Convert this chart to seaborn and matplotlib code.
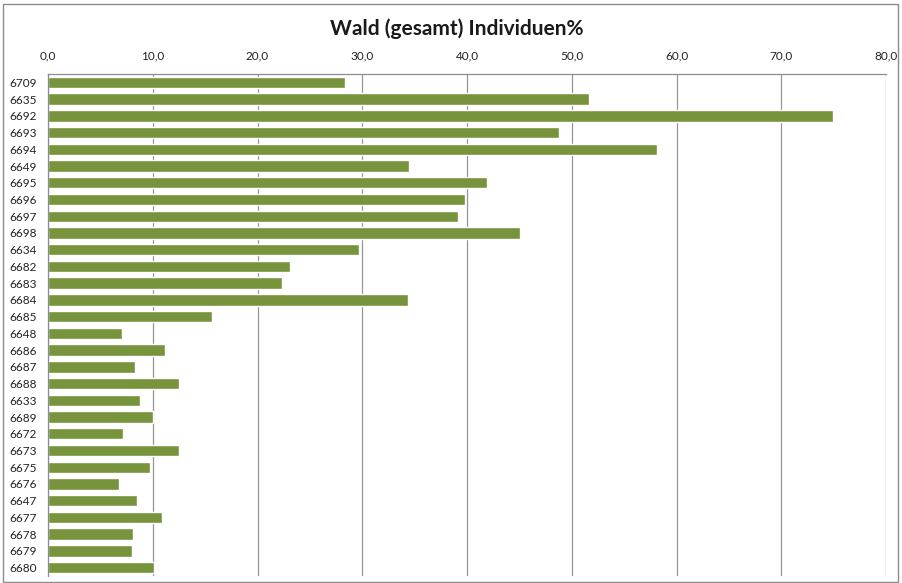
import matplotlib
matplotlib.use("Agg")
import matplotlib.pyplot as plt
import seaborn as sns
import pandas as pd
from matplotlib.patches import Rectangle

categories = ["6709", "6635", "6692", "6693", "6694", "6649", "6695", "6696", "6697", "6698",
              "6634", "6682", "6683", "6684", "6685", "6648", "6686", "6687", "6688", "6633",
              "6689", "6672", "6673", "6675", "6676", "6647", "6677", "6678", "6679", "6680"]
values = [28.4, 51.6, 74.9, 48.8, 58.1, 34.5, 41.9, 39.8, 39.1, 45.1,
          29.7, 23.1, 22.3, 34.4, 15.7, 7.1, 11.2, 8.3, 12.5, 8.8,
          10.0, 7.2, 12.5, 9.7, 6.8, 8.5, 10.9, 8.1, 8.0, 10.1]
x_ticks = [0, 10, 20, 30, 40, 50, 60, 70, 80]
tick_labels = ["0,0", "10,0", "20,0", "30,0", "40,0", "50,0", "60,0", "70,0", "80,0"]
title = "Wald (gesamt) Individuen%"

sns.set_style("white")
plt.rcParams["font.family"] = ["Lato", "DejaVu Sans"]

df = pd.DataFrame({"cat": categories, "val": values})

fig = plt.figure(figsize=(9.02, 5.83), dpi=100)
ax = fig.add_axes([48 / 902, 1 - 576 / 583, (886 - 48) / 902, (576 - 74) / 583])

sns.barplot(data=df, y="cat", x="val", orient="h", color="#77933C", saturation=1,
            width=0.68, ax=ax, order=categories)

ax.set_xlim(0, 80)
ax.set_ylim(len(categories) - 0.5, -0.5)
ax.set_xticks(x_ticks)
ax.set_xticklabels(tick_labels, fontsize=8.5, color="#222222")
ax.xaxis.tick_top()
ax.tick_params(axis="x", length=0, pad=9)
ax.tick_params(axis="y", length=0, pad=8, labelsize=8.5, labelcolor="#222222")
ax.set_xlabel("")
ax.set_ylabel("")
ax.grid(axis="x", color="#959595", linewidth=0.9)
ax.set_axisbelow(True)
for s in ["right", "bottom"]:
    ax.spines[s].set_visible(False)
for s in ["left", "top"]:
    ax.spines[s].set_color("#8C8C8C")
    ax.spines[s].set_linewidth(0.9)

fig.text(457 / 902, 1 - 29 / 583, title, ha="center", va="center",
         fontsize=15, fontweight="bold", color="#1a1a1a")

fig.patches.append(Rectangle((3 / 902, 1 - 582 / 583), 895 / 902, 578 / 583,
                             transform=fig.transFigure, fill=False,
                             edgecolor="#8C8C8C", linewidth=1))

fig.savefig("out.png", dpi=100)
